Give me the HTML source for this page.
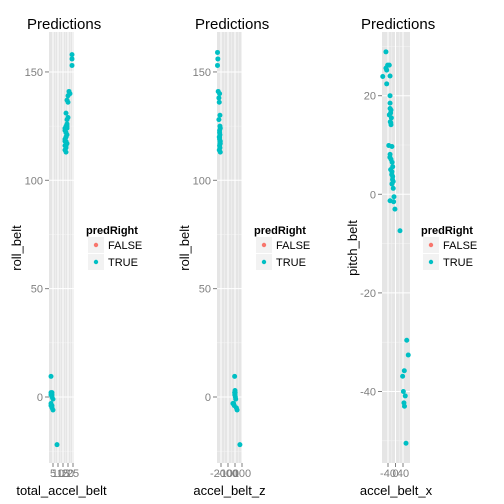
<!DOCTYPE html>
<html><head><meta charset="utf-8"><style>
body{margin:0;background:#fff;}
svg{display:block;font-family:"Liberation Sans",sans-serif;}
</style></head><body>
<svg id="c" width="504" height="504" xmlns="http://www.w3.org/2000/svg"></svg>
<script>
// Panel 1: total_accel_belt vs roll_belt
const p1X = [24,24,24,21,20,22,20,19,18,19,18,17,18,19,18,17,18,19,17,18,17,18,19,17,18,19,18,17,18,19,20,18,3,3,4,4,5,3,3,4,5,4,3,4,9];
const p1Y = [158,156,153,141,139,140,136,137,131,128,125,123,122,121,120,119,118,117,116,115,114,113,126,124,120,124,122,118,117,125,129,116,9.5,2,1,0,-1,-3,-4,-5,-6,-4,1,2,-22];
// Panel 2: accel_belt_z vs roll_belt
const p2X = [-250,-245,-250,-240,-230,-225,-220,-215,-230,-210,-220,-215,-225,-220,-215,-210,-220,-215,-225,-210,-215,-220,-210,-215,-220,-5,-5,0,5,10,0,-3,2,-30,-20,-10,20,30,70];
const p2Y = [159,156,153,141,138,136,140,130,128,124,122,121,120,119,118,117,116,115,114,113,125,123,118,117,120,9.5,2,1,0,-1,3,1,2,-3,-3,-4,-5,-6,-22];
// Panel 3: accel_belt_x vs pitch_belt
const p3X = [-51,-42,-51,-33,-47,-68,-29,-47,-29,-29,-29,-24,-33,-28,-24,-36,-19,-29,-24,-15,-19,-15,-12,-19,-12,-8,-29,-10,-3,24,-26,-22,-18,-30,-26,-20,-16,-25,60,68,47,38,42,52,45,48,56];
const p3Y = [28.9,26.2,25.6,26.2,25.2,23.9,24.0,22.4,20.0,18.5,17.4,17.1,16.1,14.7,14.1,9.9,9.7,8.1,7.1,5.6,4.6,3.6,2.6,2.1,1.2,-0.5,-1.3,-1.5,-3.0,-7.4,16.5,15.5,6.5,7.5,5.0,4.0,3.0,14.5,-29.6,-32.6,-35.8,-36.9,-40.0,-40.9,-42.3,-43.0,-50.5];
const p1XTicks = [5,10,15,20,25];
const p2XTicks = [-200,-100,0,100];
const p3XTicks = [-40,0,40];
const rollTicks = [0,50,100,150];
const pitchTicks = [-40,-20,0,20];

const NS = "http://www.w3.org/2000/svg";
const svg = document.getElementById('c');
function el(tag, attrs, parent) {
  const e = document.createElementNS(NS, tag);
  for (const k in attrs) e.setAttribute(k, attrs[k]);
  (parent || svg).appendChild(e);
  return e;
}
function panel(o) {
  const g = el('g', {});
  
  
  const L = o.left, R = o.right, T = 32, B = 463;
  const xs = v => o.x0 + v * o.xk;
  const ys = v => o.y0 - v * o.yk;
  const bg = el('rect', {x: L, y: T, width: R - L, height: B - T, fill: '#E5E5E5'}, g);
  
  
  for (let i = 0; i < o.yTicks.length - 1; i++) {
    const m = (o.yTicks[i] + o.yTicks[i + 1]) / 2;
    el('line', {x1: L, x2: R, y1: ys(m), y2: ys(m), stroke: '#F2F2F2', 'stroke-width': 0.6}, g);
  }
  const step = o.yTicks[1] - o.yTicks[0];
  [o.yTicks[0] - step / 2, o.yTicks[o.yTicks.length - 1] + step / 2].forEach(m => {
    if (ys(m) > T && ys(m) < B) el('line', {x1: L, x2: R, y1: ys(m), y2: ys(m), stroke: '#F2F2F2', 'stroke-width': 0.6}, g);
  });
  for (let i = 0; i < o.xTicks.length - 1; i++) {
    const m = (o.xTicks[i] + o.xTicks[i + 1]) / 2;
    el('line', {x1: xs(m), x2: xs(m), y1: T, y2: B, stroke: '#F2F2F2', 'stroke-width': 0.6}, g);
  }
  o.xTicks.forEach(t => {
    el('line', {x1: xs(t), x2: xs(t), y1: T, y2: B, stroke: '#fff', 'stroke-width': 1}, g);
    el('line', {x1: xs(t), x2: xs(t), y1: B, y2: B + 4, stroke: '#7F7F7F', 'stroke-width': 1}, g);
    const tx = el('text', {x: xs(t), y: B + 14, 'font-size': 11, fill: '#7F7F7F', 'text-anchor': 'middle'}, g);
    tx.textContent = t;
    
    
  });
  o.yTicks.forEach(t => {
    el('line', {x1: L, x2: R, y1: ys(t), y2: ys(t), stroke: '#fff', 'stroke-width': 1}, g);
    el('line', {x1: L - 4, x2: L, y1: ys(t), y2: ys(t), stroke: '#7F7F7F', 'stroke-width': 1}, g);
    const tx = el('text', {x: L - 6, y: ys(t) + 4, 'font-size': 11, fill: '#7F7F7F', 'text-anchor': 'end'}, g);
    tx.textContent = t;
    
    
  });
  o.xs.forEach((v, i) => {
    const c = el('circle', {cx: xs(v), cy: ys(o.ys[i]), r: 2.5, fill: '#00BFC4'}, g);
    
    
  });
  const title = el('text', {x: o.titleX, y: 29, 'font-size': 15, fill: '#000'}, g);
  title.textContent = 'Predictions';
  
  
  const xt = el('text', {x: (L + R) / 2, y: 495, 'font-size': 13, fill: '#000', 'text-anchor': 'middle'}, g);
  xt.textContent = o.xLabel;
  
  
  const yt = el('text', {x: 0, y: 0, 'font-size': 13, fill: '#000', 'text-anchor': 'middle', transform: `translate(${o.yLabelX},248) rotate(-90)`}, g);
  yt.textContent = o.yLabel;
  
  
  const lg = el('g', {}, g);
  
  
  const lx = o.legendX;
  const lt = el('text', {x: lx, y: 234, 'font-size': 11, 'font-weight': 'bold', fill: '#000'}, lg);
  lt.textContent = 'predRight';
  [['FALSE', '#F8766D', 237], ['TRUE', '#00BFC4', 254]].forEach(([lab, col, y]) => {
    const k = el('rect', {x: lx + 2, y: y, width: 16, height: 16, fill: '#F2F2F2'}, lg);
    
    
    el('circle', {cx: lx + 10, cy: y + 8, r: 2.2, fill: col}, lg);
    const t = el('text', {x: lx + 22, y: y + 12, 'font-size': 11, fill: '#000'}, lg);
    t.textContent = lab;
    
    
  });
}
panel({name: 'panel-total-accel', left: 49, right: 74, x0: 48, xk: 1, y0: 397, yk: 2.167,
  xTicks: p1XTicks, yTicks: rollTicks, xs: p1X, ys: p1Y, xLabel: 'total_accel_belt', yLabel: 'roll_belt',
  yLabelX: 21, titleX: 27, legendX: 86});
panel({name: 'panel-accel-z', left: 217, right: 242, x0: 235, xk: 0.07, y0: 397, yk: 2.167,
  xTicks: p2XTicks, yTicks: rollTicks, xs: p2X, ys: p2Y, xLabel: 'accel_belt_z', yLabel: 'roll_belt',
  yLabelX: 189, titleX: 195, legendX: 254});
panel({name: 'panel-accel-x', left: 382, right: 410, x0: 395.5, xk: 0.1875, y0: 194.3, yk: 4.93,
  xTicks: p3XTicks, yTicks: pitchTicks, xs: p3X, ys: p3Y, xLabel: 'accel_belt_x', yLabel: 'pitch_belt',
  yLabelX: 357, titleX: 361, legendX: 421});
</script>
</body></html>
